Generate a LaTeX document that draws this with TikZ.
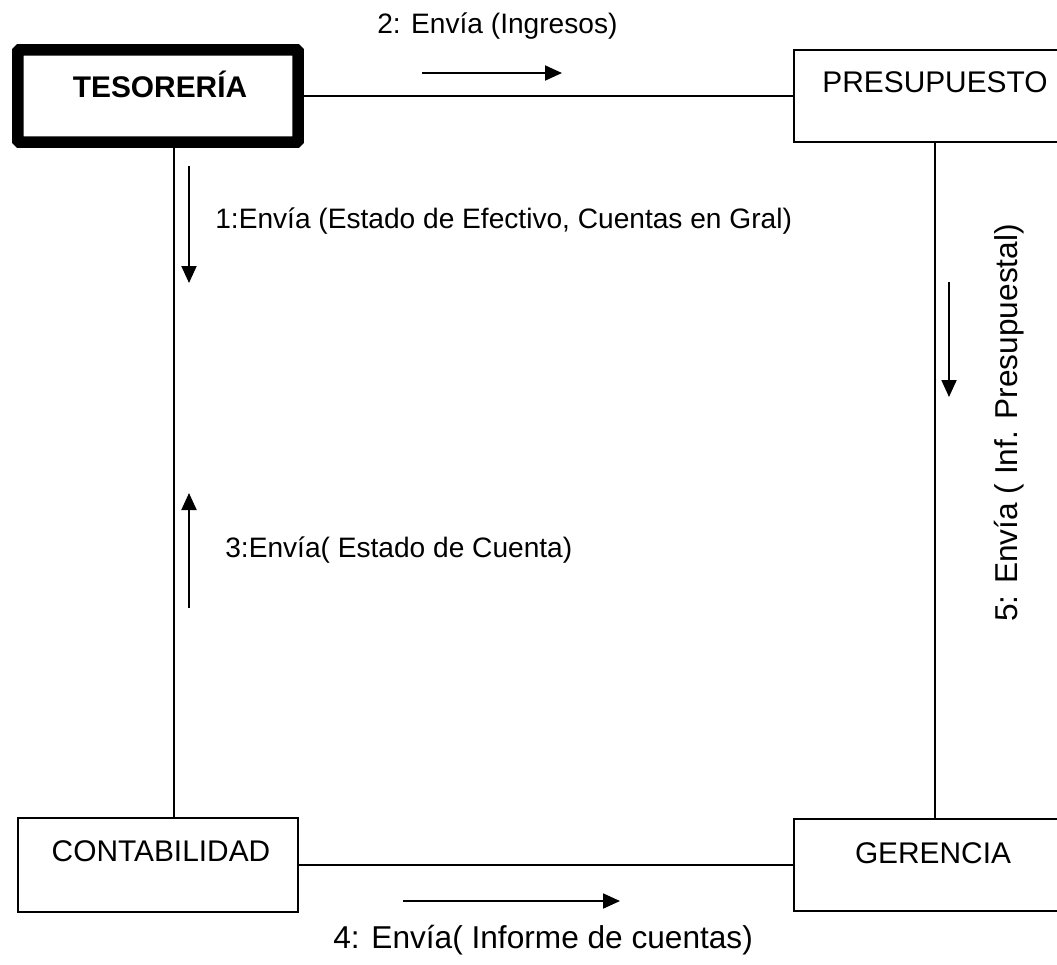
\documentclass[tikz,border=0pt]{standalone}
\usepackage{fontspec}
\setmainfont{Liberation Sans}
\usetikzlibrary{arrows.meta, positioning}

\tikzset{
    box/.style={draw, rectangle, line width=1.1pt, minimum width=5.64cm, minimum height=1.84cm, inner sep=0pt},
    boxlabel/.style={anchor=base, inner sep=0pt, font=\fontsize{17}{20}\selectfont},
    msglabel/.style={anchor=base west, inner sep=0pt, font=\fontsize{16}{19}\selectfont},
    link/.style={line width=1.1pt},
    msgarrow/.style={line width=1.1pt, -{Triangle[length=0.34cm, width=0.3cm]}}
}

\begin{document}
\begin{tikzpicture}[x=0.02cm, y=-0.02cm]
    \useasboundingbox (0,0) rectangle (1057,964);
    \clip (0,0) rectangle (1057,964);

    % Boxes
    \node[box, line width=0.23cm, rounded corners=1pt, minimum width=5.61cm, minimum height=1.85cm] (tes) at (158,96) {};
    \node[box] (pre) at (935,96) {};
    \node[box, minimum width=5.6cm, minimum height=1.88cm] (cont) at (158,865) {};
    \node[box] (ger) at (935,865) {};

    % Box texts
    \node[boxlabel, font=\bfseries\fontsize{17}{20}\selectfont] (tes-txt) at (160,97) {TESORERÍA};
    \node[boxlabel] (pre-txt) at (935,92) {PRESUPUESTO};
    \node[boxlabel] (cont-txt) at (161,861) {CONTABILIDAD};
    \node[boxlabel] (ger-txt) at (933,863) {GERENCIA};

    % Links
    \coordinate (lcol) at (174,0);
    \draw[link] (tes.east) -- (pre.west);
    \draw[link] (tes.south -| lcol) -- (cont.north -| lcol);
    \draw[link] (pre.south) -- (ger.north);
    \draw[link] (cont.east) -- (ger.west);

    % Message arrows
    \coordinate (m1a) at (189,166); \coordinate (m1b) at (189,283);
    \coordinate (m2a) at (422,73);  \coordinate (m2b) at (562,73);
    \coordinate (m3a) at (189,608); \coordinate (m3b) at (189,493);
    \coordinate (m4a) at (403,901); \coordinate (m4b) at (620,901);
    \coordinate (m5a) at (949,282); \coordinate (m5b) at (949,397);
    \draw[msgarrow] (m1a) -- (m1b);
    \draw[msgarrow] (m2a) -- (m2b);
    \draw[msgarrow] (m3a) -- (m3b);
    \draw[msgarrow] (m4a) -- (m4b);
    \draw[msgarrow] (m5a) -- (m5b);

    % Message texts
    \node[msglabel] (m1-txt) at (215,228) {1:Envía (Estado de Efectivo, Cuentas en Gral)};
    \node[msglabel] (m2-txt) at (377,33) {2: Envía (Ingresos)};
    \node[msglabel] (m3-txt) at (225,557) {3:Envía( Estado de Cuenta)};
    \node[msglabel, font=\fontsize{18}{21}\selectfont] (m4-txt) at (333,948) {4: Envía( Informe de cuentas)};
    \node[msglabel, font=\fontsize{18}{21}\selectfont, anchor=base, rotate=90] (m5-txt) at (1017,423) {5: Envía ( Inf. Presupuestal)};
\end{tikzpicture}
\end{document}
